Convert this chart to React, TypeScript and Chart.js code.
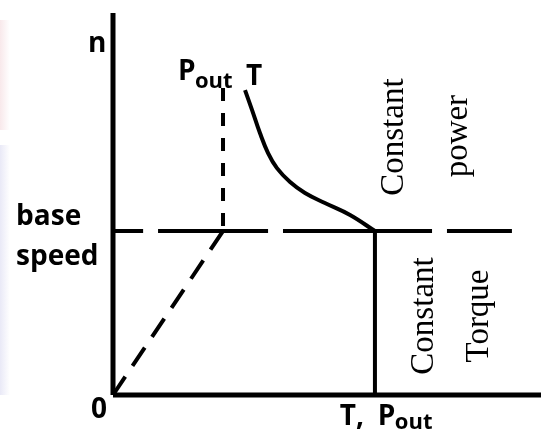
import React, { useEffect, useRef } from "react";
import { Chart, registerables } from "chart.js";

Chart.register(...registerables);

// Axis extents (T on x, n on y; base speed = 1, rated T = 1)
const xAxisMax = 1.634;
const yAxisMax = 2.33;

// Base-speed dashed line segments (n = 1)
const baseSpeed = 1;
const baseSpeedSegStart = [0, 0.172, 0.649, 1.275];
const baseSpeedSegEnd = [0.115, 0.592, 1.218, 1.523];

// Pout vertical dashed line (x) and its top (n)
const poutX = 0.42;
const poutTopN = 1.872;

// Diagonal dashed line from origin to base-speed point
const diagT = [0, 0.42];
const diagN = [0, 1];

// Torque curve in constant power region
const curveT = [0.504, 0.531, 0.561, 0.592, 0.626, 0.676, 0.733, 0.809, 0.905, 1];
const curveN = [1.86, 1.738, 1.598, 1.476, 1.384, 1.299, 1.232, 1.171, 1.098, 1];

// Rated torque vertical line
const ratedT = 1;

// Text labels
const axisLabelN = "n";
const baseLabels = ["base", "speed"];
const originLabel = "0";
const xLabelParts = ["T,", "P", "out"];
const curveLabels = ["P", "out", "T"];
const regionUpper = ["Constant", "power"];
const regionLower = ["Constant", "Torque"];

const sans = "'Open Sans', 'Liberation Sans', sans-serif";
const serif = "'Liberation Serif', 'DejaVu Serif', serif";

type Lbl = { t: string; x: number; y: number; font: string; rot?: boolean };

const labels: Lbl[] = [
  { t: axisLabelN, x: -0.0954, y: 2.0915, font: `bold 28px ${sans}` },
  { t: baseLabels[0], x: -0.37, y: 1.0366, font: `bold 28px ${sans}` },
  { t: baseLabels[1], x: -0.37, y: 0.7927, font: `bold 28px ${sans}` },
  { t: originLabel, x: -0.084, y: -0.14, font: `bold 28px ${sans}` },
  { t: xLabelParts[0], x: 0.866, y: -0.183, font: `bold 28px ${sans}` },
  { t: xLabelParts[1], x: 1.011, y: -0.183, font: `bold 28px ${sans}` },
  { t: xLabelParts[2], x: 1.076, y: -0.207, font: `bold 22px ${sans}` },
  { t: curveLabels[0], x: 0.248, y: 1.921, font: `bold 28px ${sans}` },
  { t: curveLabels[1], x: 0.313, y: 1.872, font: `bold 22px ${sans}` },
  { t: curveLabels[2], x: 0.508, y: 1.89, font: `bold 28px ${sans}` },
  { t: regionUpper[0], x: 1.107, y: 1.573, font: `33px ${serif}`, rot: true },
  { t: regionUpper[1], x: 1.351, y: 1.579, font: `33px ${serif}`, rot: true },
  { t: regionLower[0], x: 1.221, y: 0.482, font: `33px ${serif}`, rot: true },
  { t: regionLower[1], x: 1.431, y: 0.482, font: `33px ${serif}`, rot: true },
];

const labelPlugin = {
  id: "labelPlugin",
  afterDraw(chart: any) {
    const ctx = chart.ctx as CanvasRenderingContext2D;
    const xs = chart.scales.x;
    const ys = chart.scales.y;
    ctx.save();
    ctx.fillStyle = "#000";
    ctx.textBaseline = "alphabetic";
    for (const l of labels) {
      const px = xs.getPixelForValue(l.x);
      const py = ys.getPixelForValue(l.y);
      ctx.font = l.font;
      if (l.rot) {
        ctx.save();
        ctx.translate(px, py);
        ctx.rotate(-Math.PI / 2);
        ctx.textAlign = "center";
        ctx.fillText(l.t, 0, 0);
        ctx.restore();
      } else {
        ctx.textAlign = "left";
        ctx.fillText(l.t, px, py);
      }
    }
    ctx.restore();
  },
};

const bgPlugin = {
  id: "bgPlugin",
  beforeDraw(chart: any) {
    const ctx = chart.ctx as CanvasRenderingContext2D;
    ctx.save();
    ctx.fillStyle = "#ffffff";
    ctx.fillRect(0, 0, chart.width, chart.height);
    const g1 = ctx.createLinearGradient(0, 0, 10, 0);
    g1.addColorStop(0, "rgba(240, 205, 210, 0.45)");
    g1.addColorStop(1, "rgba(240, 205, 210, 0)");
    ctx.fillStyle = g1;
    ctx.fillRect(0, 20, 10, 110);
    const g2 = ctx.createLinearGradient(0, 0, 10, 0);
    g2.addColorStop(0, "rgba(215, 215, 240, 0.55)");
    g2.addColorStop(1, "rgba(215, 215, 240, 0)");
    ctx.fillStyle = g2;
    ctx.fillRect(0, 145, 10, 250);
    ctx.restore();
  },
};

function segData() {
  const pts: any[] = [];
  baseSpeedSegStart.forEach((s, i) => {
    pts.push({ x: s, y: baseSpeed });
    pts.push({ x: baseSpeedSegEnd[i], y: baseSpeed });
    if (i < baseSpeedSegStart.length - 1)
      pts.push({ x: (baseSpeedSegEnd[i] + baseSpeedSegStart[i + 1]) / 2, y: null });
  });
  return pts;
}

export default function App() {
  const ref = useRef<HTMLCanvasElement>(null);
  useEffect(() => {
    document.body.style.margin = "0";
    const common = {
      borderColor: "#000",
      pointRadius: 0,
      fill: false,
      clip: false as any,
      tension: 0,
    };
    const chart = new Chart(ref.current as HTMLCanvasElement, {
      type: "line",
      data: {
        datasets: [
          {
            ...common,
            label: "n axis",
            data: [
              { x: 0, y: 0 },
              { x: 0, y: yAxisMax },
            ],
            borderWidth: 5,
          },
          {
            ...common,
            label: "T axis",
            data: [
              { x: 0, y: 0 },
              { x: xAxisMax, y: 0 },
            ],
            borderWidth: 5,
          },
          {
            ...common,
            label: "base speed",
            data: segData(),
            spanGaps: false,
            borderWidth: 4,
          },
          {
            ...common,
            label: "Pout",
            data: [
              { x: poutX, y: poutTopN },
              { x: poutX, y: baseSpeed },
            ],
            borderWidth: 4,
            borderDash: [13, 12],
          },
          {
            ...common,
            label: "diag",
            data: diagT.map((t, i) => ({ x: t, y: diagN[i] })),
            borderWidth: 4,
            borderDash: [22, 13],
          },
          {
            ...common,
            label: "T curve",
            data: curveT.map((t, i) => ({ x: t, y: curveN[i] })),
            borderWidth: 4,
            tension: 0.4,
          },
          {
            ...common,
            label: "rated T",
            data: [
              { x: ratedT, y: baseSpeed },
              { x: ratedT, y: 0 },
            ],
            borderWidth: 4,
          },
        ] as any,
      },
      options: {
        responsive: false,
        animation: false,
        devicePixelRatio: 1,
        layout: { padding: { left: 113, right: 5, top: 13, bottom: 35 } },
        scales: {
          x: { type: "linear", min: 0, max: xAxisMax, display: false },
          y: { type: "linear", min: 0, max: yAxisMax, display: false },
        },
        plugins: {
          legend: { display: false },
          tooltip: { enabled: false },
        },
      },
      plugins: [bgPlugin, labelPlugin],
    });
    return () => chart.destroy();
  }, []);
  return (
    <div style={{ width: 546, height: 430 }}>
      <canvas ref={ref} width={546} height={430} />
    </div>
  );
}
